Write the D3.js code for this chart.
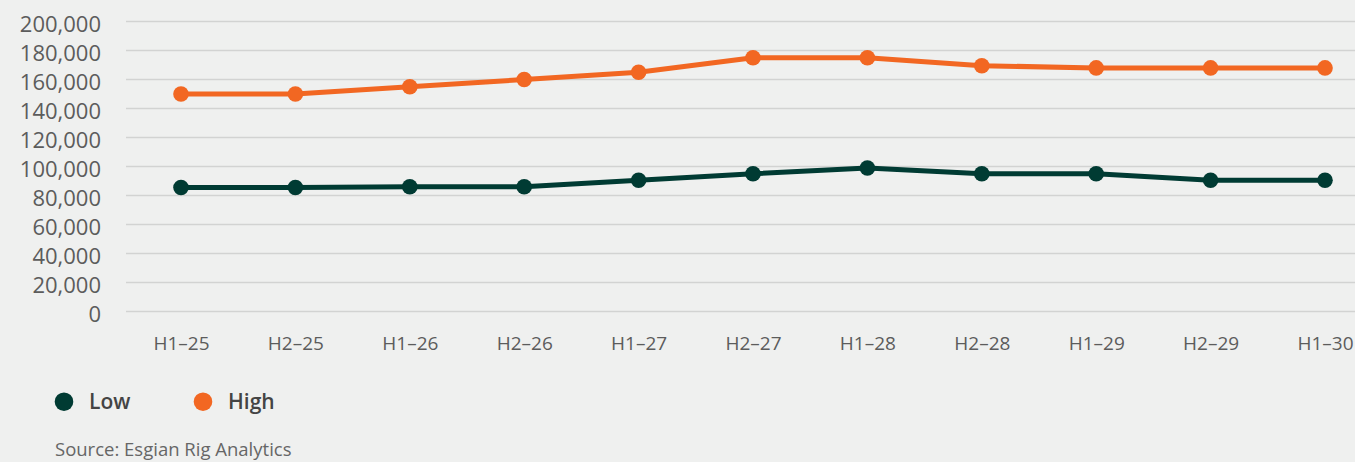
<!DOCTYPE html>
<html><head><meta charset="utf-8">
<script src="https://cdn.jsdelivr.net/npm/d3@7"></script>
<style>
html,body{margin:0;padding:0;background:#eff0ef;}
svg{display:block;}
text{font-family:"Open Sans",sans-serif;}
</style></head>
<body><svg id="c" width="1355" height="462"></svg>
<script>
const categories = ["H1–25","H2–25","H1–26","H2–26","H1–27","H2–27","H1–28","H2–28","H1–29","H2–29","H1–30"];
const lowValues  = [85500,85500,86000,86000,90500,95000,99000,95000,95000,90500,90500];
const highValues = [150000,150000,155000,160000,165000,175000,175000,169500,168000,168000,168000];
const yTicks = [0,20000,40000,60000,80000,100000,120000,140000,160000,180000,200000];
const seriesNames = ["Low","High"];
const colors = ["#003b33","#f26722"];

const svg = d3.select("#c");
svg.append("rect").attr("width",1355).attr("height",462).attr("fill","#eff0ef");

const x = d3.scalePoint().domain(categories).range([181,1325]);
const y = d3.scaleLinear().domain([0,200000]).range([311.5,21.5]);

svg.append("g").selectAll("line").data(yTicks).join("line")
  .attr("x1",126).attr("x2",1355)
  .attr("y1",d=>y(d)).attr("y2",d=>y(d))
  .attr("stroke","#d2d3d2").attr("stroke-width",1.6);

const yAxis = d3.axisLeft(y).tickValues(yTicks).tickSize(0).tickPadding(0)
  .tickFormat(d3.format(","));
const gy = svg.append("g").attr("transform","translate(101,0)").call(yAxis);
gy.select(".domain").remove();
gy.selectAll("text").attr("font-size",22).attr("fill","#5c5c5c").attr("dy","0.38em")
  .attr("transform","translate(0,1.5)").style("font-family","'Open Sans',sans-serif");

const xAxis = d3.axisBottom(x).tickSize(0).tickPadding(0);
const gx = svg.append("g").attr("transform","translate(0,350)").call(xAxis);
gx.select(".domain").remove();
gx.selectAll("text").attr("font-size",19).attr("fill","#5c5c5c").attr("dy",0)
  .style("font-family","'Open Sans',sans-serif");

const data = [lowValues, highValues];
const line = d3.line().x((d,i)=>x(categories[i])).y(d=>y(d));
data.forEach((vals,k)=>{
  svg.append("path").datum(vals).attr("d",line).attr("fill","none")
    .attr("stroke",colors[k]).attr("stroke-width",5).attr("stroke-linejoin","round");
  svg.append("g").selectAll("circle").data(vals).join("circle")
    .attr("cx",(d,i)=>x(categories[i])).attr("cy",d=>y(d)).attr("r",7.8)
    .attr("fill",colors[k]);
});

// legend
const legX = [64,203];
seriesNames.forEach((n,k)=>{
  svg.append("circle").attr("cx",legX[k]).attr("cy",401.7).attr("r",9.3).attr("fill",colors[k]);
  svg.append("text").attr("x",legX[k]+25).attr("y",409.3).text(n)
    .attr("font-size",21).attr("font-weight",600).attr("fill","#444");
});

svg.append("text").attr("x",55).attr("y",455.5).text("Source: Esgian Rig Analytics")
  .attr("font-size",18.5).attr("fill","#666");
</script></body></html>
